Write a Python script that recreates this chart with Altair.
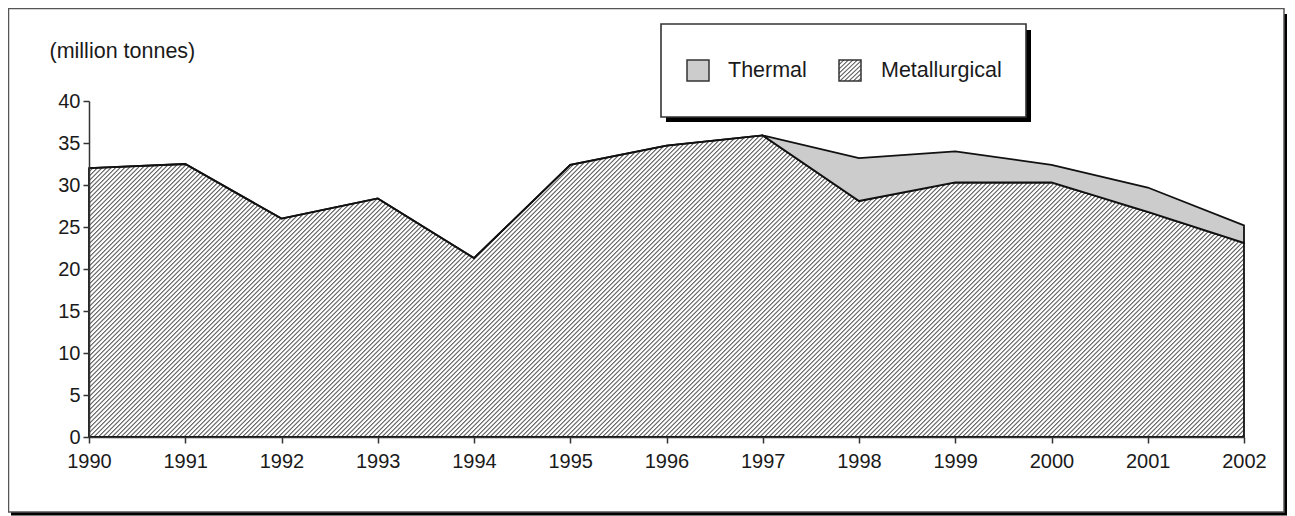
import altair as alt
import pandas as pd

# ---------------- data ----------------
years = [1990, 1991, 1992, 1993, 1994, 1995, 1996, 1997, 1998, 1999, 2000, 2001, 2002]
metallurgical = [32.0, 32.5, 26.0, 28.4, 21.3, 32.4, 34.7, 35.9, 28.1, 30.3, 30.3, 26.8, 23.1]
thermal = [0.0, 0.0, 0.0, 0.0, 0.0, 0.0, 0.0, 0.0, 5.1, 3.7, 2.1, 2.9, 2.1]
y_ticks = [0, 5, 10, 15, 20, 25, 30, 35, 40]
legend_labels = ["Thermal", "Metallurgical"]
unit_label = "(million tonnes)"

df = pd.DataFrame({"Year": years, "Metallurgical": metallurgical, "Thermal": thermal})
df["Total"] = df["Metallurgical"] + df["Thermal"]

# ---------------- style ----------------
FONT = "Liberation Sans"
PLOT_W, PLOT_H = 1155, 336
Y_MAX = 40
TEXT = "#1a1a1a"
AXIS = "#333333"
THERMAL_FILL = "#cccccc"
HATCH_DARK = "#6e6e6e"
HATCH_LIGHT = "#ffffff"
# stripe profile within one period: (fraction, colour)
PROFILE = [(0.0, HATCH_DARK), (0.15, HATCH_DARK), (0.4, HATCH_LIGHT),
           (0.8, HATCH_LIGHT)]


def hatch(w, h, period=4.5):
    """Linear gradient drawing '/' stripes at 45 degrees, one stripe every
    `period` pixels, inside a w x h bounding box."""
    span = w + h
    k = w * span / (w * w + h * h)
    stops = []
    i = 0
    while i * period < span:
        for frac, col in PROFILE:
            off = (i + frac) * period / span
            if off <= 1:
                stops.append({"offset": off, "color": col})
        i += 1
    stops.append({"offset": 1, "color": HATCH_DARK})
    return {"gradient": "linear", "x1": 0, "y1": 0,
            "x2": k, "y2": k * h / w, "stops": stops}


met_h = max(metallurgical) / Y_MAX * PLOT_H
met_fill = hatch(PLOT_W, met_h)
swatch_fill = hatch(22, 22)

one = pd.DataFrame({"k": [0]})


def box(x, x2, y, y2, fill, stroke=None, sw=0):
    kw = {"fill": fill}
    if stroke:
        kw.update(stroke=stroke, strokeWidth=sw)
    return alt.Chart(one).mark_rect(**kw).encode(
        x=alt.value(x), x2=alt.value(x2), y=alt.value(y), y2=alt.value(y2)
    )


def label(txt, x, y):
    return alt.Chart(one).mark_text(
        align="left", baseline="alphabetic", font=FONT, fontSize=21.5, color=TEXT
    ).encode(x=alt.value(x), y=alt.value(y), text=alt.value(txt))


# outer frame with shadow
frame_shadow = box(-78, 1198, -87, 414.5, "#000000")
frame = box(-80.5, 1195, -92.5, 411, "#ffffff", "#555555", 1.5)

x_enc = alt.X(
    "Year:Q",
    scale=alt.Scale(domain=[years[0], years[-1]], nice=False, zero=False),
    axis=alt.Axis(values=years, format="d", title=None, labelFlush=False,
                  labelOverlap=False, zindex=1),
)
y_axis = alt.Axis(values=y_ticks, title=unit_label, titleAngle=0, titleX=-40,
                  titleY=-44, titleAlign="left", titleBaseline="alphabetic",
                  titleFont=FONT, titleFontSize=21.5, titleFontWeight="normal",
                  titleColor=TEXT, zindex=1)

met_area = alt.Chart(df).mark_area(
    fill=met_fill, stroke="#111111", strokeWidth=1.8, strokeJoin="miter"
).encode(
    x=x_enc,
    y=alt.Y("Metallurgical:Q", scale=alt.Scale(domain=[0, Y_MAX], nice=False),
            axis=y_axis),
)

thermal_area = alt.Chart(df).mark_area(
    fill=THERMAL_FILL, stroke="#111111", strokeWidth=1.8, strokeJoin="miter"
).encode(
    x=alt.X("Year:Q"),
    y=alt.Y("Metallurgical:Q"),
    y2=alt.Y2("Total:Q"),
)

# legend box
leg_shadow = box(577, 942, -71, 21, "#000000")
leg_box = box(572, 937, -77, 16, "#ffffff", "#333333", 1.6)
sw_thermal = box(598, 620, -41, -20, THERMAL_FILL, "#333333", 1.5)
sw_met = box(750, 772, -41, -20, swatch_fill, "#333333", 1.5)
txt_thermal = label(legend_labels[0], 639, -24)
txt_met = label(legend_labels[1], 792, -24)

chart = alt.layer(
    frame_shadow, frame, met_area, thermal_area,
    leg_shadow, leg_box, sw_thermal, sw_met, txt_thermal, txt_met,
).properties(
    width=PLOT_W, height=PLOT_H,
    autosize=alt.AutoSizeParams(type="none"),
    padding={"left": 81, "top": 93, "right": 43, "bottom": 79},
    background="#ffffff",
).configure_view(
    stroke=None
).configure_axis(
    grid=False,
    domainColor=AXIS, domainWidth=1.5,
    tickColor=AXIS, tickWidth=1.5, tickSize=6,
    labelFont=FONT, labelFontSize=20, labelColor=TEXT,
).configure_axisX(
    labelPadding=8,
).configure_axisY(
    labelPadding=3,
)

chart.save("out.html", embed_options={"renderer": "svg", "actions": False})
